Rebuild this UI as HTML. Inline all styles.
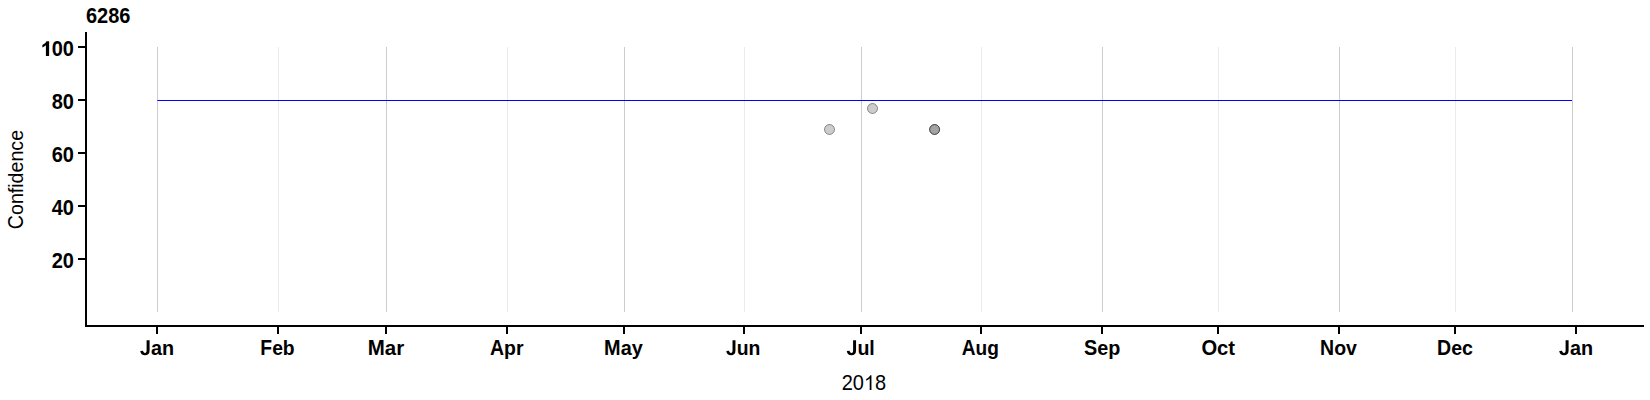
<!DOCTYPE html>
<html><head><meta charset="utf-8"><title>6286</title>
<style>
html,body{margin:0;padding:0;background:#fff;}
body{width:1650px;height:400px;overflow:hidden;}
svg{display:block;}
text{font-family:"Liberation Sans",sans-serif;fill:#000;}
.b{font-weight:bold;font-size:20px;}
.r{font-size:20px;}
</style></head><body>
<svg width="1650" height="400" viewBox="0 0 1650 400">
<rect width="1650" height="400" fill="#fff"/>

<g shape-rendering="crispEdges">
<rect x="157" y="47" width="1" height="265" fill="#cccccc"/>
<rect x="278" y="47" width="1" height="265" fill="#ebebeb"/>
<rect x="386" y="47" width="1" height="265" fill="#cccccc"/>
<rect x="507" y="47" width="1" height="265" fill="#ebebeb"/>
<rect x="624" y="47" width="1" height="265" fill="#cccccc"/>
<rect x="744" y="47" width="1" height="265" fill="#ebebeb"/>
<rect x="861" y="47" width="1" height="265" fill="#cccccc"/>
<rect x="981" y="47" width="1" height="265" fill="#ebebeb"/>
<rect x="1102" y="47" width="1" height="265" fill="#cccccc"/>
<rect x="1218" y="47" width="1" height="265" fill="#ebebeb"/>
<rect x="1339" y="47" width="1" height="265" fill="#cccccc"/>
<rect x="1455" y="47" width="1" height="265" fill="#ebebeb"/>
<rect x="1572" y="47" width="1" height="265" fill="#cccccc"/>
<rect x="157.4" y="100" width="1414.6" height="1" fill="#0000ff" shape-rendering="geometricPrecision"/>
<rect x="85" y="32" width="2" height="295" fill="#000"/>
<rect x="85" y="325" width="1559" height="2" fill="#000"/>
<rect x="78" y="258" width="7" height="2" fill="#000"/>
<rect x="78" y="205" width="7" height="2" fill="#000"/>
<rect x="78" y="152" width="7" height="2" fill="#000"/>
<rect x="78" y="99" width="7" height="2" fill="#000"/>
<rect x="78" y="46" width="7" height="2" fill="#000"/>
<rect x="156" y="327" width="2" height="7" fill="#000"/>
<rect x="277" y="327" width="2" height="7" fill="#000"/>
<rect x="385" y="327" width="2" height="7" fill="#000"/>
<rect x="506" y="327" width="2" height="7" fill="#000"/>
<rect x="623" y="327" width="2" height="7" fill="#000"/>
<rect x="743" y="327" width="2" height="7" fill="#000"/>
<rect x="860" y="327" width="2" height="7" fill="#000"/>
<rect x="980" y="327" width="2" height="7" fill="#000"/>
<rect x="1101" y="327" width="2" height="7" fill="#000"/>
<rect x="1217" y="327" width="2" height="7" fill="#000"/>
<rect x="1338" y="327" width="2" height="7" fill="#000"/>
<rect x="1454" y="327" width="2" height="7" fill="#000"/>
<rect x="1575" y="327" width="2" height="7" fill="#000"/>
</g>
<circle cx="829.5" cy="129.5" r="5" fill="#000" fill-opacity="0.2" stroke="#000" stroke-opacity="0.4" stroke-width="1"/>
<circle cx="872.5" cy="108.5" r="5" fill="#000" fill-opacity="0.2" stroke="#000" stroke-opacity="0.4" stroke-width="1"/>
<circle cx="934.6" cy="129.5" r="5" fill="#000" fill-opacity="0.2" stroke="#000" stroke-opacity="0.4" stroke-width="1"/>
<circle cx="934.6" cy="129.5" r="5" fill="#000" fill-opacity="0.2" stroke="#000" stroke-opacity="0.4" stroke-width="1"/>
<text class="b" transform="translate(86,23) scale(1.0,1.075)" text-anchor="start">6286</text>
<text class="b" transform="translate(74,268) scale(1.0,1.075)" text-anchor="end">20</text>
<text class="b" transform="translate(74,215) scale(1.0,1.075)" text-anchor="end">40</text>
<text class="b" transform="translate(74,162) scale(1.0,1.075)" text-anchor="end">60</text>
<text class="b" transform="translate(74,109) scale(1.0,1.075)" text-anchor="end">80</text>
<text class="b" transform="translate(74,56) scale(1.0,1.075)" text-anchor="end">00</text>
<path d="M870,0 L540,0 L540,1062 Q386,918 176,849 L176,1105 Q286,1141 416,1241 Q545,1342 593,1474 L870,1474 Z" fill="#000" transform="translate(40.631,56) scale(0.009766,-0.010035)"/>
<path d="M524 -20Q305 -20 187.5 75Q70 170 31 382L324 425Q342 316 391 263.5Q440 211 526 211Q607 211 650 270Q690 329 690 439V1409H999V446Q999 226 874 103Q749 -20 524 -20Z" fill="#000" transform="translate(139.938,355.1) scale(0.009668,-0.010498)"/>
<text class="b" transform="translate(150.936,355.1) scale(0.99,1.0)">a</text>
<text class="b" transform="translate(161.950,355.1) scale(0.99,1.0)">n</text>
<text class="b" transform="translate(260.361,355.1) scale(0.965,1.075)">F</text>
<text class="b" transform="translate(272.137,355.1) scale(0.965,1.0)">e</text>
<text class="b" transform="translate(282.873,355.1) scale(0.965,1.055)">b</text>
<text class="b" transform="translate(367.686,355.1) scale(1.025,1.075)">M</text>
<text class="b" transform="translate(384.759,355.1) scale(1.025,1.0)">a</text>
<text class="b" transform="translate(396.162,355.1) scale(1.025,1.0)">r</text>
<text class="b" transform="translate(489.894,355.1) scale(0.975,1.075)">A</text>
<text class="b" transform="translate(503.971,355.1) scale(0.975,1.0)">p</text>
<text class="b" transform="translate(515.884,355.1) scale(0.975,1.0)">r</text>
<text class="b" transform="translate(604.064,355.1) scale(0.995,1.075)">M</text>
<text class="b" transform="translate(620.637,355.1) scale(0.995,1.0)">a</text>
<text class="b" transform="translate(631.706,355.1) scale(0.995,1.0)">y</text>
<path d="M524 -20Q305 -20 187.5 75Q70 170 31 382L324 425Q342 316 391 263.5Q440 211 526 211Q607 211 650 270Q690 329 690 439V1409H999V446Q999 226 874 103Q749 -20 524 -20Z" fill="#000" transform="translate(725.992,355.1) scale(0.009473,-0.010498)"/>
<text class="b" transform="translate(736.768,355.1) scale(0.97,1.0)">u</text>
<text class="b" transform="translate(748.620,355.1) scale(0.97,1.0)">n</text>
<path d="M524 -20Q305 -20 187.5 75Q70 170 31 382L324 425Q342 316 391 263.5Q440 211 526 211Q607 211 650 270Q690 329 690 439V1409H999V446Q999 226 874 103Q749 -20 524 -20Z" fill="#000" transform="translate(846.506,355.1) scale(0.009570,-0.010498)"/>
<text class="b" transform="translate(857.393,355.1) scale(0.98,1.0)">u</text>
<text class="b" transform="translate(869.367,355.1) scale(0.98,1.055)">l</text>
<text class="b" transform="translate(961.770,355.1) scale(0.955,1.075)">A</text>
<text class="b" transform="translate(975.558,355.1) scale(0.955,1.0)">u</text>
<text class="b" transform="translate(987.226,355.1) scale(0.955,1.0)">g</text>
<text class="b" transform="translate(1083.940,355.1) scale(0.99,1.075)">S</text>
<text class="b" transform="translate(1097.135,355.1) scale(0.99,1.0)">e</text>
<text class="b" transform="translate(1108.148,355.1) scale(0.99,1.0)">p</text>
<text class="b" transform="translate(1201.425,355.1) scale(1.008,1.075)">O</text>
<text class="b" transform="translate(1217.096,355.1) scale(1.008,1.0)">c</text>
<text class="b" transform="translate(1228.310,355.1) scale(1.008,1.055)">t</text>
<text class="b" transform="translate(1320.074,355.1) scale(0.975,1.075)">N</text>
<text class="b" transform="translate(1334.151,355.1) scale(0.975,1.0)">o</text>
<text class="b" transform="translate(1346.064,355.1) scale(0.975,1.0)">v</text>
<text class="b" transform="translate(1437.032,355.1) scale(0.978,1.075)">D</text>
<text class="b" transform="translate(1451.152,355.1) scale(0.978,1.0)">e</text>
<text class="b" transform="translate(1462.032,355.1) scale(0.978,1.0)">c</text>
<path d="M524 -20Q305 -20 187.5 75Q70 170 31 382L324 425Q342 316 391 263.5Q440 211 526 211Q607 211 650 270Q690 329 690 439V1409H999V446Q999 226 874 103Q749 -20 524 -20Z" fill="#000" transform="translate(1558.938,355.1) scale(0.009668,-0.010498)"/>
<text class="b" transform="translate(1569.936,355.1) scale(0.99,1.0)">a</text>
<text class="b" transform="translate(1580.950,355.1) scale(0.99,1.0)">n</text>
<text class="r" transform="translate(841.754,390) scale(1.0,1.075)" text-anchor="start">20</text>
<path d="M763,0 L583,0 L583,1147 Q518,1085 412.5,1023 T223,930 L223,1104 Q374,1175 487,1276 T647,1472 L763,1472 Z" fill="#000" transform="translate(864.000,390) scale(0.009766,-0.010035)"/>
<text class="r" transform="translate(875.123,390) scale(1.0,1.075)" text-anchor="start">8</text>
<text class="r" transform="translate(23.4,179.55) rotate(-90) translate(-49.632,0) scale(0.981,1.075)">C</text>
<text class="r" transform="translate(23.4,179.55) rotate(-90) translate(-35.469,0) scale(0.981,1.0)">o</text>
<text class="r" transform="translate(23.4,179.55) rotate(-90) translate(-24.556,0) scale(0.981,1.0)">n</text>
<text class="r" transform="translate(23.4,179.55) rotate(-90) translate(-13.642,0) scale(0.981,1.055)">f</text>
<text class="r" transform="translate(23.4,179.55) rotate(-90) translate(-8.201,0) scale(0.981,1.055)">i</text>
<text class="r" transform="translate(23.4,179.55) rotate(-90) translate(-3.832,0) scale(0.981,1.055)">d</text>
<text class="r" transform="translate(23.4,179.55) rotate(-90) translate(7.082,0) scale(0.981,1.0)">e</text>
<text class="r" transform="translate(23.4,179.55) rotate(-90) translate(17.980,0) scale(0.981,1.0)">n</text>
<text class="r" transform="translate(23.4,179.55) rotate(-90) translate(28.894,0) scale(0.981,1.0)">c</text>
<text class="r" transform="translate(23.4,179.55) rotate(-90) translate(38.704,0) scale(0.981,1.0)">e</text>
</svg></body></html>
